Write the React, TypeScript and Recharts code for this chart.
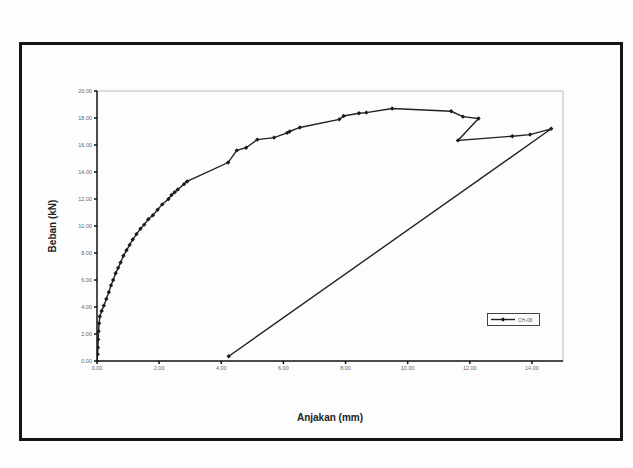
import React from "react";
import { LineChart, Line, XAxis, YAxis, ReferenceLine } from "recharts";

// Anjakan (mm) vs Beban (kN) in path order
const anjakan = [
  0, 0.02, 0.03, 0.04, 0.05, 0.07, 0.09, 0.15, 0.22, 0.3, 0.38, 0.45, 0.52,
  0.6, 0.68, 0.76, 0.85, 0.95, 1.05, 1.15, 1.27, 1.4, 1.52, 1.65, 1.8, 1.95,
  2.1, 2.3, 2.4, 2.5, 2.6, 2.8, 2.9, 4.22, 4.5, 4.8, 5.16, 5.7, 6.12, 6.2,
  6.53, 7.8, 7.94, 8.43, 8.67, 9.5, 11.4, 11.78, 12.28, 11.62, 13.37, 13.94,
  14.62, 4.24,
];
const beban = [
  0, 0.5, 1.0, 1.6, 2.2, 2.8, 3.3, 3.7, 4.1, 4.6, 5.1, 5.6, 6.0, 6.5, 6.9,
  7.3, 7.8, 8.2, 8.6, 9.0, 9.4, 9.8, 10.1, 10.5, 10.8, 11.2, 11.6, 12.0, 12.3,
  12.5, 12.7, 13.1, 13.3, 14.7, 15.6, 15.8, 16.4, 16.55, 16.9, 17.0, 17.3,
  17.9, 18.15, 18.35, 18.4, 18.7, 18.5, 18.1, 17.96, 16.34, 16.65, 16.77,
  17.2, 0.35,
];
const xTicks = [0, 2, 4, 6, 8, 10, 12, 14];
const yTicks = [0, 2, 4, 6, 8, 10, 12, 14, 16, 18, 20];
const seriesName = "CH-06";

const data = anjakan.map((x, i) => ({ x, y: beban[i] }));

const font = "'Liberation Sans', Arial, sans-serif";

function Diamond(props: any) {
  const { cx, cy, index } = props;
  if (cx == null || cy == null) return null;
  const s = 2.2;
  return (
    <path
      key={index}
      d={`M${cx},${cy - s}L${cx + s},${cy}L${cx},${cy + s}L${cx - s},${cy}Z`}
      fill="#1a1a1a"
    />
  );
}

const tickStyle = { fontSize: 5.5, fill: "#666", fontFamily: font };

export default function App() {
  return (
    <div
      style={{
        position: "absolute",
        left: 0,
        top: 0,
        width: 633,
        height: 468,
        background: "#fdfdfd",
        overflow: "hidden",
      }}
    >
      <div
        style={{
          position: "absolute",
          left: 19,
          top: 42,
          width: 598,
          height: 393,
          border: "3px solid #151515",
        }}
      />
      <div style={{ position: "absolute", left: 0, top: 0 }}>
        <LineChart
          width={633}
          height={468}
          data={data}
          margin={{ top: 91, right: 70, bottom: 87, left: 57 }}
        >
          <XAxis
            type="number"
            dataKey="x"
            domain={[0, 15]}
            ticks={xTicks}
            tickFormatter={(v: number) => v.toFixed(2)}
            tick={tickStyle}
            tickSize={3}
            height={20}
            stroke="#111"
            strokeWidth={1.5}
            allowDataOverflow
          />
          <YAxis
            type="number"
            dataKey="y"
            domain={[0, 20]}
            ticks={yTicks}
            tickFormatter={(v: number) => v.toFixed(2)}
            tick={tickStyle}
            tickSize={3}
            width={40}
            stroke="#111"
            strokeWidth={1.5}
          />
          <ReferenceLine y={20} stroke="#bbb" strokeWidth={1} />
          <ReferenceLine x={15} stroke="#bbb" strokeWidth={1} />
          <Line
            type="linear"
            dataKey="y"
            name={seriesName}
            stroke="#222"
            strokeWidth={1.4}
            dot={<Diamond />}
            activeDot={false}
            isAnimationActive={false}
          />
        </LineChart>
      </div>
      <div
        style={{
          position: "absolute",
          left: 30,
          top: 226,
          transform: "translate(-50%, -50%) rotate(-90deg)",
          fontFamily: font,
          fontWeight: "bold",
          fontSize: 10,
          color: "#222",
          whiteSpace: "nowrap",
          marginLeft: 22,
        }}
      >
        Beban (kN)
      </div>
      <div
        style={{
          position: "absolute",
          left: 330,
          top: 412,
          transform: "translateX(-50%)",
          fontFamily: font,
          fontWeight: "bold",
          fontSize: 10,
          color: "#222",
          whiteSpace: "nowrap",
        }}
      >
        Anjakan (mm)
      </div>
      <div
        style={{
          position: "absolute",
          left: 487,
          top: 313,
          width: 51,
          height: 11,
          border: "1px solid #444",
          display: "flex",
          alignItems: "center",
          fontFamily: font,
          fontSize: 5,
          color: "#555",
        }}
      >
        <svg width={30} height={11}>
          <line x1={3} y1={5.5} x2={27} y2={5.5} stroke="#222" strokeWidth={1.4} />
          <path d="M15,3.3L17.2,5.5L15,7.7L12.8,5.5Z" fill="#1a1a1a" />
        </svg>
        <span>{seriesName}</span>
      </div>
    </div>
  );
}
